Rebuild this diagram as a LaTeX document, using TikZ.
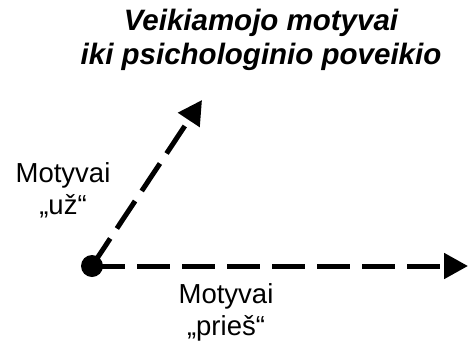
\documentclass[tikz,border=0pt]{standalone}
\usepackage{fontspec}
\setmainfont{Liberation Sans}
\usetikzlibrary{arrows.meta}
\begin{document}
\begin{tikzpicture}[x=1pt,y=-1pt,
  lbl/.style={align=center,font=\fontsize{27.5}{32}\selectfont,inner sep=0pt},
  ttl/.style={align=center,font=\fontsize{29.5}{34}\selectfont\bfseries\itshape,inner sep=0pt},
  arr/.style={line width=5pt,dash pattern=on 33pt off 12pt,-{Triangle[length=24pt,width=25pt]}}]
\useasboundingbox (0,0) rectangle (468,343);
\node[ttl] (title) at (261,40) {Veikiamojo motyvai\\iki psichologinio poveikio};
\node[circle,fill=black,minimum size=22pt,inner sep=0pt] (o) at (92,266) {};
\coordinate (up) at (202,100);
\coordinate (rt) at (468,266);
\draw[arr] (o.center) -- (up);
\draw[arr] (o.center) -- (rt);
\node[lbl] (uz) at (63,190) {Motyvai\\„už“};
\node[lbl] (pries) at (226,312) {Motyvai\\„prieš“};
\end{tikzpicture}
\end{document}
